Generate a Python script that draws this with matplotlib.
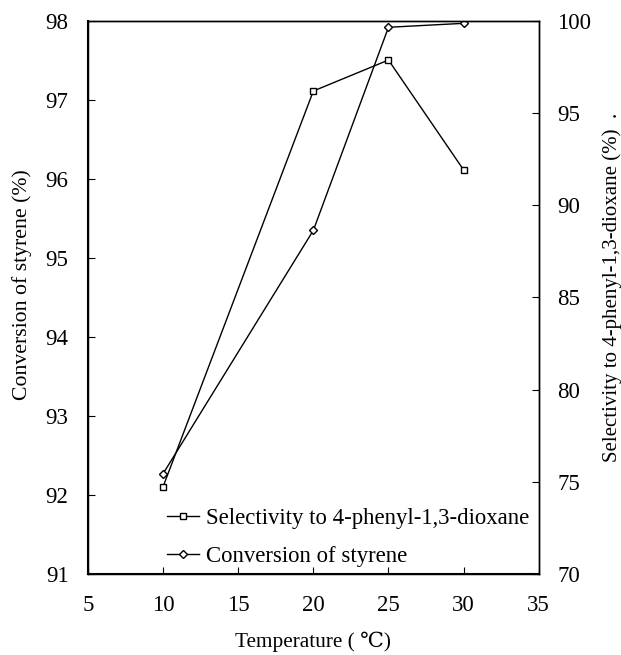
import matplotlib.pyplot as plt

plt.rcParams['font.family'] = ['Liberation Serif', 'DejaVu Serif']

temperature = [10, 20, 25, 30]
selectivity = [74.74, 96.2, 97.88, 91.92]
conversion = [92.27, 95.35, 97.92, 97.97]

fig = plt.figure(figsize=(6.21, 6.55), dpi=100)
ax = fig.add_axes([0.1417, 0.1237, 0.7258, 0.8443])
ax2 = ax.twinx()

l1, = ax2.plot(temperature, selectivity, color='black', lw=1, marker='s', ms=5,
               mfc='white', mec='black', mew=1, label='Selectivity to 4-phenyl-1,3-dioxane')
l2, = ax.plot(temperature, conversion, color='black', lw=1, marker='D', ms=4.5,
              mfc='white', mec='black', mew=1, label='Conversion of styrene')

ax.set_xlim(5, 35)
ax.set_ylim(91, 98)
ax2.set_ylim(70, 100)
ax.set_xticks(range(5, 36, 5))
ax.set_yticks(range(91, 99))
ax2.set_yticks(range(70, 101, 5))

ax.tick_params(direction='in', length=5, labelsize=16.5, pad=14, top=False, right=False)
ax.tick_params(axis='x', pad=15)
ax2.tick_params(direction='in', length=5, labelsize=16.5, pad=13.5)
for a in (ax, ax2):
    for s in a.spines.values():
        s.set_linewidth(1)
ax.spines['left'].set_linewidth(1.5)
ax.spines['bottom'].set_linewidth(1.5)

ax.set_xlabel('Temperature ( \u2103)', fontsize=15.3, labelpad=11)
ax.set_ylabel('Conversion of styrene (%)', fontsize=15.7)
ax2.set_ylabel('Selectivity to 4-phenyl-1,3-dioxane (%)  .', fontsize=15)
ax.yaxis.set_label_coords(-0.124, 0.523)
ax2.yaxis.set_label_coords(1.14, 0.518)

ax.legend(handles=[l1, l2], loc='lower left', bbox_to_anchor=(0.175, 0.012),
          frameon=False, fontsize=16.4, handlelength=1.4, handletextpad=0.3,
          labelspacing=0.75, borderpad=0, borderaxespad=0)

fig.savefig('out.png', dpi=100)
